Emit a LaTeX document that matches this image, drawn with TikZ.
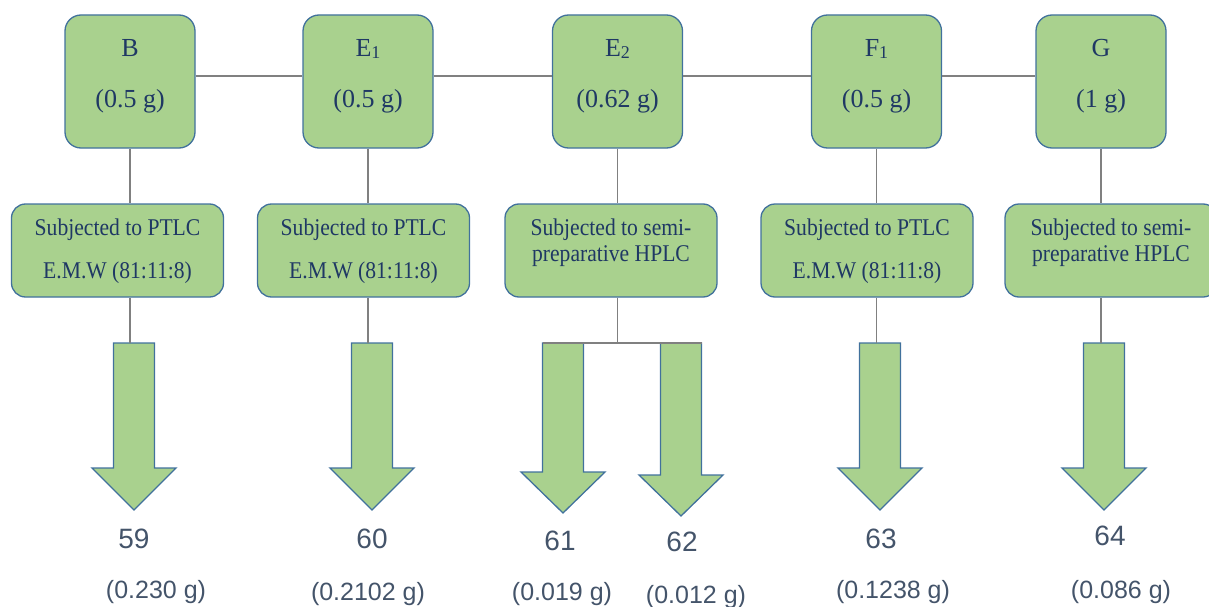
\documentclass[tikz,border=0pt]{standalone}
\usepackage{fontspec}
\setmainfont{Liberation Serif}
\newfontfamily\boxserif[FakeStretch=0.9]{Liberation Serif}
\newfontfamily\labelsans{Liberation Sans}
\usetikzlibrary{calc}

\definecolor{boxgreen}{HTML}{A9D18E}
\definecolor{boxedge}{HTML}{41719C}
\definecolor{linkgray}{HTML}{808080}
\definecolor{boxtext}{HTML}{1F3864}
\definecolor{yieldtext}{HTML}{44546A}

% small lowered index, as in E1
\newcommand{\lowidx}[1]{{\fontsize{18}{18}\selectfont\raisebox{-1.5pt}{#1}}}
% block arrow: name, x, top, start of head, tip
\newcommand{\blockarrow}[5]{%
  \coordinate (#1) at (#2,#3);
  \draw[fatarrow] (#2-20.5,#3) -- (#2+20.5,#3) -- (#2+20.5,#4) -- (#2+42,#4)
    -- (#2,#5) -- (#2-42,#4) -- (#2-20.5,#4) -- cycle;}

\tikzset{
  fraction/.style={draw=boxedge, fill=boxgreen, line width=1.3pt, rounded corners=16pt,
    minimum width=130pt, minimum height=133pt, inner sep=0pt},
  method/.style={draw=boxedge, fill=boxgreen, line width=1.3pt, rounded corners=14pt,
    minimum width=212pt, minimum height=93pt, inner sep=0pt},
  fractxt/.style={text=boxtext, font=\fontsize{26}{30}\selectfont, anchor=base, inner sep=0pt},
  methtxt/.style={text=boxtext, font=\boxserif\fontsize{24}{28}\selectfont, anchor=base, inner sep=0pt},
  cmpd/.style={text=yieldtext, font=\labelsans\fontsize{28}{32}\selectfont, anchor=base, inner sep=0pt},
  yield/.style={text=yieldtext, font=\labelsans\fontsize{25}{30}\selectfont, anchor=base, inner sep=0pt},
  link/.style={draw=linkgray, line width=1.2pt},
  fatarrow/.style={draw=boxedge, fill=boxgreen, line width=1.3pt},
}

\begin{document}
\begin{tikzpicture}[x=1pt, y=-1pt]
  \clip (0,0) rectangle (1209,607);

  % fractions
  \node[fraction] (fB)  at (130,81.5) {};
  \node[fraction] (fE1) at (368,81.5) {};
  \node[fraction] (fE2) at (617.5,81.5) {};
  \node[fraction] (fF1) at (876.5,81.5) {};
  \node[fraction] (fG)  at (1101,81.5) {};

  \node[fractxt] (fBname)  at (130,57) {B};
  \node[fractxt] (fBmass)  at (130,108) {(0.5 g)};
  \node[fractxt] (fE1name) at (368,57) {E\lowidx{1}};
  \node[fractxt] (fE1mass) at (368,108) {(0.5 g)};
  \node[fractxt] (fE2name) at (617.5,57) {E\lowidx{2}};
  \node[fractxt] (fE2mass) at (617.5,108) {(0.62 g)};
  \node[fractxt] (fF1name) at (876.5,57) {F\lowidx{1}};
  \node[fractxt] (fF1mass) at (876.5,108) {(0.5 g)};
  \node[fractxt] (fGname)  at (1101,57) {G};
  \node[fractxt] (fGmass)  at (1101,108) {(1 g)};

  % separation steps
  \node[method] (mB)  at (117.5,250.5) {};
  \node[method] (mE1) at (363.5,250.5) {};
  \node[method] (mE2) at (611,250.5) {};
  \node[method] (mF1) at (867,250.5) {};
  \node[method] (mG)  at (1111,250.5) {};

  \node[methtxt] (mBa)  at (117.5,235) {Subjected to PTLC};
  \node[methtxt] (mBb)  at (117.5,278) {E.M.W (81:11:8)};
  \node[methtxt] (mE1a) at (363.5,235) {Subjected to PTLC};
  \node[methtxt] (mE1b) at (363.5,278) {E.M.W (81:11:8)};
  \node[methtxt] (mE2a) at (611,235) {Subjected to semi-};
  \node[methtxt] (mE2b) at (611,261) {preparative HPLC};
  \node[methtxt] (mF1a) at (867,235) {Subjected to PTLC};
  \node[methtxt] (mF1b) at (867,278) {E.M.W (81:11:8)};
  \node[methtxt] (mGa)  at (1111,235) {Subjected to semi-};
  \node[methtxt] (mGb)  at (1111,261) {preparative HPLC};

  % products
  \blockarrow{a59}{134}{343}{468}{510}
  \blockarrow{a60}{372}{343}{468}{510}
  \blockarrow{a61}{563}{343}{472}{513}
  \blockarrow{a62}{681}{343}{475}{516}
  \blockarrow{a63}{880}{343}{468}{510}
  \blockarrow{a64}{1104}{343}{468}{510}

  \node[cmpd]  (c59) at (134,548) {59};
  \node[yield] (y59) at (156,598) {(0.230 g)};
  \node[cmpd]  (c60) at (372,548) {60};
  \node[yield] (y60) at (368,600) {(0.2102 g)};
  \node[cmpd]  (c61) at (560,550) {61};
  \node[yield] (y61) at (562,600) {(0.019 g)};
  \node[cmpd]  (c62) at (682,551) {62};
  \node[yield] (y62) at (696,603) {(0.012 g)};
  \node[cmpd]  (c63) at (881,548) {63};
  \node[yield] (y63) at (893,598) {(0.1238 g)};
  \node[cmpd]  (c64) at (1110,545) {64};
  \node[yield] (y64) at (1121,598) {(0.086 g)};

  % connectors
  \draw[link] ([yshift=5.5pt]fB.east) -- ([yshift=5.5pt]fE1.west);
  \draw[link] ([yshift=5.5pt]fE1.east) -- ([yshift=5.5pt]fE2.west);
  \draw[link] ([yshift=5.5pt]fE2.east) -- ([yshift=5.5pt]fF1.west);
  \draw[link] ([yshift=5.5pt]fF1.east) -- ([yshift=5.5pt]fG.west);

  \draw[link] (fB.south) -- (fB.south |- mB.north);
  \draw[link] (fE1.south) -- (fE1.south |- mE1.north);
  \draw[link] (fE2.south) -- (fE2.south |- mE2.north);
  \draw[link] (fF1.south) -- (fF1.south |- mF1.north);
  \draw[link] (fG.south) -- (fG.south |- mG.north);

  \draw[link] (fB.south |- mB.south) -- (fB.south |- a59);
  \draw[link] (fE1.south |- mE1.south) -- (fE1.south |- a60);
  \draw[link] (fE2.south |- mE2.south) -- (fE2.south |- a61);
  \draw[link] ([xshift=-20.5pt]a61) -- ([xshift=20.5pt]a62);
  \draw[link] (fF1.south |- mF1.south) -- (fF1.south |- a63);
  \draw[link] (fG.south |- mG.south) -- (fG.south |- a64);
\end{tikzpicture}
\end{document}
